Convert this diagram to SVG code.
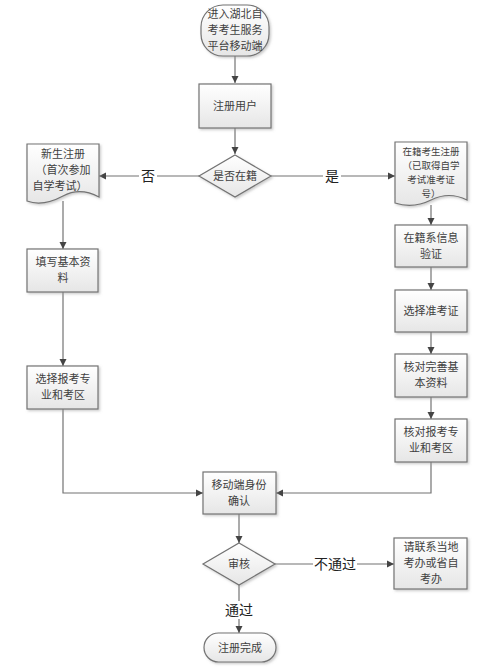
<svg xmlns="http://www.w3.org/2000/svg" width="502" height="671" viewBox="0 0 502 671">
<style>
.s{fill:url(#g);stroke:#737373;stroke-width:1.2;filter:url(#sh)}
.t{font-family:"Noto Sans CJK SC","Liberation Sans",sans-serif;font-size:11px;fill:#404040;text-anchor:middle}
.ts{font-size:9.5px}
.lb{font-family:"Noto Sans CJK SC","Liberation Sans",sans-serif;font-size:14px;fill:#222;text-anchor:middle}
.c{fill:none;stroke:#737373;stroke-width:1.2}
</style>
<defs>
<linearGradient id="g" x1="0" y1="0" x2="0" y2="1"><stop offset="0" stop-color="#ffffff"/><stop offset="1" stop-color="#e6e6e6"/></linearGradient>
<filter id="sh" x="-10%" y="-10%" width="130%" height="130%"><feDropShadow dx="1.5" dy="1.5" stdDeviation="0.8" flood-color="#999" flood-opacity="0.5"/></filter>
<marker id="a" markerWidth="8" markerHeight="8" refX="7" refY="4" orient="auto" markerUnits="userSpaceOnUse"><path d="M0,0.5 L7,4 L0,7.5 Z" fill="#444"/></marker>
</defs>
<g id="connectors">
<path class="c" d="M235,56 V83" marker-end="url(#a)"/>
<path class="c" d="M235,128 V154" marker-end="url(#a)"/>
<path class="c" d="M200,176 H99" marker-end="url(#a)"/>
<path class="c" d="M271,176 H395" marker-end="url(#a)"/>
<path class="c" d="M63,201 V249" marker-end="url(#a)"/>
<path class="c" d="M63,292 V366" marker-end="url(#a)"/>
<path class="c" d="M63,409 V493 H203" marker-end="url(#a)"/>
<path class="c" d="M431,205 V225" marker-end="url(#a)"/>
<path class="c" d="M431,267 V290" marker-end="url(#a)"/>
<path class="c" d="M431,332 V354" marker-end="url(#a)"/>
<path class="c" d="M431,397 V419" marker-end="url(#a)"/>
<path class="c" d="M431,462 V493 H276" marker-end="url(#a)"/>
<path class="c" d="M239,514 V543" marker-end="url(#a)"/>
<path class="c" d="M275,564 H394" marker-end="url(#a)"/>
<path class="c" d="M239,585 V633" marker-end="url(#a)"/>
<rect x="139" y="167" width="18" height="18" fill="#fff"/>
<text class="lb" x="148" y="181">否</text>
<rect x="323" y="167" width="18" height="18" fill="#fff"/>
<text class="lb" x="332" y="181">是</text>
<rect x="313" y="555" width="44" height="18" fill="#fff"/>
<text class="lb" x="335" y="569">不通过</text>
<rect x="224" y="601" width="30" height="18" fill="#fff"/>
<text class="lb" x="239" y="615">通过</text>
</g>
<g id="start">
<rect class="s" x="201" y="5" width="68" height="51" rx="22" ry="22"/>
<text class="t" x="235" y="18">进入湖北自</text>
<text class="t" x="235" y="34">考考生服务</text>
<text class="t" x="235" y="50">平台移动端</text>
</g>
<g id="register">
<rect class="s" x="199" y="84" width="72" height="44"/>
<text class="t" x="235" y="110">注册用户</text>
</g>
<g id="enrolled">
<path class="s" d="M235,155 L271,176 L235,197 L199,176 Z"/>
<text class="t" x="235" y="180">是否在籍</text>
</g>
<g id="newreg">
<path class="s" d="M27,144 H99 V197 C86,190 74,190 63,196 C50,203 38,205 27,201 Z"/>
<text class="t" x="63" y="158">新生注册</text>
<text class="t" x="63" y="174">（首次参加</text>
<text class="t" x="60" y="190">自学考试）</text>
</g>
<g id="fillinfo">
<rect class="s" x="27" y="249" width="71" height="43"/>
<text class="t" x="63" y="266">填写基本资</text>
<text class="t" x="63" y="282">料</text>
</g>
<g id="chooseleft">
<rect class="s" x="27" y="366" width="71" height="43"/>
<text class="t" x="63" y="383">选择报考专</text>
<text class="t" x="63" y="399">业和考区</text>
</g>
<g id="enrolledreg">
<path class="s" d="M395,142 H467 V200 C455,194 443,194 431,200 C419,206 407,207 395,203 Z"/>
<text class="t ts" x="431" y="155">在籍考生注册</text>
<text class="t ts" x="431" y="169">（已取得自学</text>
<text class="t ts" x="431" y="183">考试准考证</text>
<text class="t ts" x="431" y="197">号）</text>
</g>
<g id="verify">
<rect class="s" x="395" y="225" width="72" height="42"/>
<text class="t" x="431" y="242">在籍系信息</text>
<text class="t" x="431" y="258">验证</text>
</g>
<g id="choosecert">
<rect class="s" x="395" y="290" width="72" height="42"/>
<text class="t" x="431" y="315">选择准考证</text>
</g>
<g id="checkinfo">
<rect class="s" x="395" y="354" width="72" height="43"/>
<text class="t" x="431" y="371">核对完善基</text>
<text class="t" x="431" y="387">本资料</text>
</g>
<g id="checkmajor">
<rect class="s" x="395" y="419" width="72" height="43"/>
<text class="t" x="431" y="436">核对报考专</text>
<text class="t" x="431" y="452">业和考区</text>
</g>
<g id="identity">
<rect class="s" x="203" y="472" width="73" height="42"/>
<text class="t" x="239" y="489">移动端身份</text>
<text class="t" x="239" y="505">确认</text>
</g>
<g id="review">
<path class="s" d="M239,543 L275,564 L239,585 L203,564 Z"/>
<text class="t" x="239" y="568">审核</text>
</g>
<g id="contact">
<rect class="s" x="394" y="538" width="73" height="51"/>
<text class="t" x="431" y="551">请联系当地</text>
<text class="t" x="431" y="567">考办或省自</text>
<text class="t" x="431" y="583">考办</text>
</g>
<g id="done">
<rect class="s" x="204" y="633" width="72" height="29" rx="14.5" ry="14.5"/>
<text class="t" x="240" y="652">注册完成</text>
</g>
</svg>
